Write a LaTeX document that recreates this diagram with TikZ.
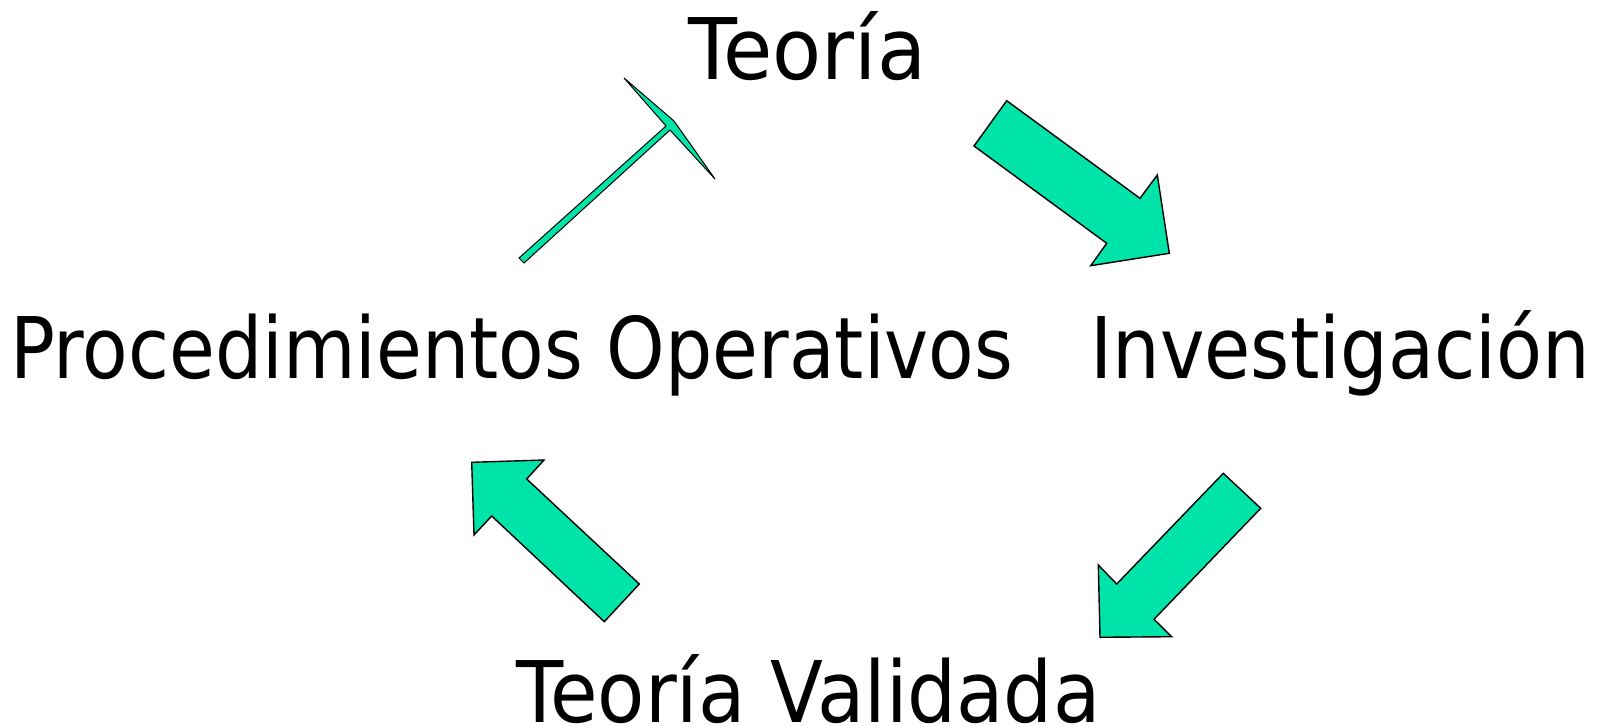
\documentclass[tikz,border=0pt]{standalone}
\usepackage{fontspec}
\usepackage{graphicx}
\setmainfont{DejaVu Sans}
\definecolor{arrowgreen}{RGB}{0,228,170}
\tikzset{
  lbl/.style={anchor=base west, inner sep=0pt, font=\fontsize{85}{90}\selectfont},
  bigarrow/.style={draw=black, line width=1.4pt, fill=arrowgreen, line join=miter}
}
\begin{document}
\begin{tikzpicture}[x=1pt,y=-1pt]
\useasboundingbox (0,0) rectangle (1605,725);
\node[lbl] (teoria) at (688,80) {\resizebox{238pt}{\height}{Teoría}};
\node[lbl] (proc) at (10,378) {\resizebox{1003pt}{\height}{Procedimientos Operativos}};
\node[lbl] (inv) at (1090,378) {\resizebox{500pt}{\height}{Investigación}};
\node[lbl] (valid) at (516,722) {\resizebox{584pt}{\height}{Teoría Validada}};
% Teoria -> Investigacion
\draw[bigarrow] (1006.7,100.7) -- (974,146) -- (1106.7,243.3) -- (1090.7,265.7) -- (1169.3,253.3) -- (1157.3,175) -- (1140,198.3) -- cycle;
% Investigacion -> Teoria Validada
\draw[bigarrow] (1223.3,473.3) -- (1260.7,508.3) -- (1154,619.3) -- (1171.7,636.7) -- (1100,637.3) -- (1098.3,565) -- (1116.7,584) -- cycle;
% Teoria Validada -> Procedimientos
\draw[bigarrow] (471.7,462.3) -- (544,460) -- (526.7,479) -- (639.3,584) -- (604.3,621.7) -- (491.7,516) -- (474,535) -- cycle;
% Procedimientos -> Teoria (thin)
\draw[draw=black, line width=1pt, fill=arrowgreen, line join=miter] (519,258) -- (666,126) -- (624,78) -- (674,121) -- (715,179) -- (670,130) -- (524,263) -- cycle;
\end{tikzpicture}
\end{document}
